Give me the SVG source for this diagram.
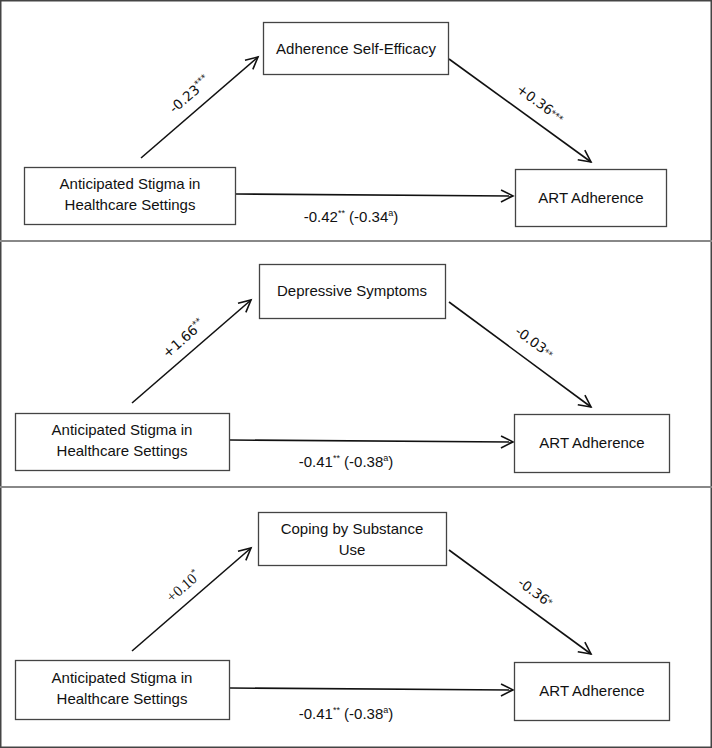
<svg xmlns="http://www.w3.org/2000/svg" width="712" height="748" viewBox="0 0 712 748">
<style>
.frame{fill:none;stroke:#444;stroke-width:1.5}
.sep{stroke:#888;stroke-width:2}
.box{fill:#fff;stroke:#444;stroke-width:1.3}
.t{font-family:"Liberation Sans",Arial,sans-serif;font-size:15px;fill:#111;text-anchor:middle}
.lbl{font-family:"DejaVu Sans",sans-serif;font-size:13.5px;fill:#111;text-anchor:middle}
.lbls{font-family:"Liberation Serif",serif;font-size:15px;fill:#111;text-anchor:middle}
.e{fill:none;stroke:#111;stroke-width:1.6;marker-end:url(#ah)}
.sup{font-size:9px}
</style>
<defs>
<marker id="ah" markerUnits="userSpaceOnUse" markerWidth="18" markerHeight="18" refX="14" refY="8" orient="auto">
<path d="M2,2 L14,8 L2,14" fill="none" stroke="#111" stroke-width="1.6"/>
</marker>
</defs>
<rect x="0" y="0" width="712" height="748" fill="#fff"/>
<rect class="frame" x="0.75" y="0.75" width="710.5" height="746.5"/>
<line class="sep" x1="0" y1="241" x2="712" y2="241"/>
<line class="sep" x1="0" y1="487" x2="712" y2="487"/>

<g id="connectors">
<line class="e" x1="141" y1="158" x2="258" y2="57"/>
<line class="e" x1="449" y1="59" x2="591" y2="162"/>
<line class="e" x1="236" y1="194" x2="513" y2="196"/>
<line class="e" x1="132" y1="403" x2="251" y2="300"/>
<line class="e" x1="449" y1="302" x2="591" y2="407"/>
<line class="e" x1="230" y1="440" x2="513" y2="442"/>
<line class="e" x1="132" y1="651" x2="251" y2="548"/>
<line class="e" x1="449" y1="550" x2="591" y2="654"/>
<line class="e" x1="230" y1="688" x2="513" y2="690"/>
</g>

<g id="labels">
<text class="lbl" transform="translate(190,95) rotate(-40.8)" y="4">-0.23<tspan class="sup" dy="-5">***</tspan></text>
<text class="lbl" transform="translate(540,104) rotate(36)" y="4">+0.36<tspan class="sup" dy="-1">***</tspan></text>
<text class="t" x="351" y="222">-0.42<tspan class="sup" dy="-6">**</tspan><tspan dy="6"> (-0.34</tspan><tspan class="sup" dy="-6">a</tspan><tspan dy="6">)</tspan></text>
<text class="lbl" transform="translate(184,339) rotate(-41)" y="4">+1.66<tspan class="sup" dy="-5">**</tspan></text>
<text class="lbl" transform="translate(534,343) rotate(36.5)" y="4">-0.03<tspan class="sup" dy="-1">**</tspan></text>
<text class="t" x="346" y="467">-0.41<tspan class="sup" dy="-6">**</tspan><tspan dy="6"> (-0.38</tspan><tspan class="sup" dy="-6">a</tspan><tspan dy="6">)</tspan></text>
<text class="lbls" transform="translate(184,587) rotate(-41)" y="4">+0.10<tspan class="sup" dy="-6">*</tspan></text>
<text class="lbl" transform="translate(535,593) rotate(36.3)" y="4">-0.36<tspan class="sup" dy="-2">*</tspan></text>
<text class="t" x="346" y="719">-0.41<tspan class="sup" dy="-6">**</tspan><tspan dy="6"> (-0.38</tspan><tspan class="sup" dy="-6">a</tspan><tspan dy="6">)</tspan></text>
</g>

<g id="p1-mediator">
<rect class="box" x="263.5" y="22.5" width="185" height="52"/>
<text class="t" x="356" y="54">Adherence Self-Efficacy</text>
</g>
<g id="p1-stigma">
<rect class="box" x="24.5" y="167.5" width="211" height="57"/>
<text class="t" x="130" y="189">Anticipated Stigma in</text>
<text class="t" x="130" y="210">Healthcare Settings</text>
</g>
<g id="p1-art">
<rect class="box" x="515.5" y="169.5" width="151" height="57"/>
<text class="t" x="591" y="203">ART Adherence</text>
</g>

<g id="p2-mediator">
<rect class="box" x="259.5" y="264.5" width="186" height="54"/>
<text class="t" x="352" y="296">Depressive Symptoms</text>
</g>
<g id="p2-stigma">
<rect class="box" x="15.5" y="413.5" width="214" height="57"/>
<text class="t" x="122" y="435">Anticipated Stigma in</text>
<text class="t" x="122" y="456">Healthcare Settings</text>
</g>
<g id="p2-art">
<rect class="box" x="514.5" y="414.5" width="155" height="58"/>
<text class="t" x="592" y="448">ART Adherence</text>
</g>

<g id="p3-mediator">
<rect class="box" x="258.5" y="512.5" width="188" height="53"/>
<text class="t" x="352" y="534">Coping by Substance</text>
<text class="t" x="352" y="555">Use</text>
</g>
<g id="p3-stigma">
<rect class="box" x="15.5" y="660.5" width="214" height="59"/>
<text class="t" x="122" y="683">Anticipated Stigma in</text>
<text class="t" x="122" y="704">Healthcare Settings</text>
</g>
<g id="p3-art">
<rect class="box" x="514.5" y="662.5" width="155" height="58"/>
<text class="t" x="592" y="696">ART Adherence</text>
</g>
</svg>
